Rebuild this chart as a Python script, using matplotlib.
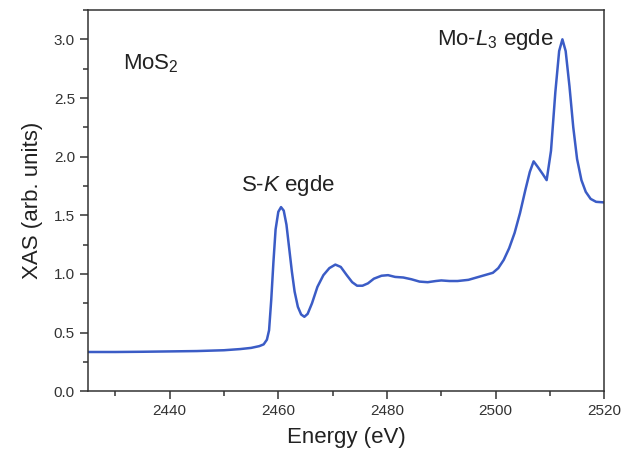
import matplotlib
matplotlib.use("Agg")
import matplotlib.pyplot as plt
from matplotlib.ticker import MultipleLocator, FormatStrFormatter

plt.rcParams["font.family"] = ["Liberation Sans", "DejaVu Sans"]
plt.rcParams["mathtext.fontset"] = "custom"
plt.rcParams["mathtext.rm"] = "Liberation Sans"
plt.rcParams["mathtext.it"] = "Liberation Sans:italic"

# XAS spectrum of MoS2
energy = [2425, 2430, 2435, 2440, 2445, 2450, 2453, 2455, 2456.5, 2457.3,
          2457.9, 2458.3, 2458.7, 2459.1, 2459.5, 2460.0, 2460.5, 2461.0, 2461.5, 2462.0,
          2462.5, 2463.0, 2463.6, 2464.2, 2464.8, 2465.4, 2466.2, 2467.2, 2468.3, 2469.4,
          2470.5, 2471.5, 2472.6, 2473.6, 2474.5, 2475.5, 2476.5, 2477.6, 2479.0, 2480.2,
          2481.5, 2483.0, 2484.5, 2486.0, 2487.5, 2489.0, 2490.0, 2491.5, 2493.0, 2495.0,
          2496.5, 2498.0, 2499.5, 2500.5, 2501.5, 2502.5, 2503.5, 2504.5, 2505.5, 2506.3,
          2507.0, 2507.8, 2508.7, 2509.4, 2510.2, 2511.0, 2511.7, 2512.3, 2512.9, 2513.6,
          2514.3, 2515.0, 2515.8, 2516.6, 2517.5, 2518.5, 2520]
xas = [0.335, 0.335, 0.337, 0.340, 0.343, 0.350, 0.360, 0.370, 0.385, 0.40,
       0.44, 0.52, 0.78, 1.10, 1.38, 1.53, 1.57, 1.54, 1.42, 1.22,
       1.02, 0.85, 0.72, 0.655, 0.635, 0.66, 0.75, 0.89, 0.99, 1.05,
       1.08, 1.06, 0.99, 0.93, 0.90, 0.90, 0.92, 0.96, 0.985, 0.99,
       0.975, 0.97, 0.955, 0.935, 0.93, 0.94, 0.945, 0.94, 0.94, 0.95,
       0.97, 0.99, 1.01, 1.05, 1.12, 1.22, 1.35, 1.52, 1.72, 1.87,
       1.96, 1.91, 1.85, 1.80, 2.05, 2.55, 2.90, 3.00, 2.90, 2.60,
       2.25, 1.98, 1.80, 1.70, 1.64, 1.615, 1.61]

labels = ["MoS$_2$", "S-$K$ egde", r"Mo-$\mathit{L}_\mathit{3}$ egde"]
label_pos = [(2436.6, 2.79), (2461.7, 1.75), (2500.0, 3.0)]

fig = plt.figure(figsize=(6.21, 4.55), dpi=100)
ax = fig.add_axes([0.142, 0.140, 0.831, 0.838])

ax.plot(energy, xas, color="#3b5cc6", lw=1.8)

ax.set_xlim(2425, 2520)
ax.set_ylim(0, 3.25)
ax.xaxis.set_major_locator(MultipleLocator(20))
ax.xaxis.set_minor_locator(MultipleLocator(10))
ax.yaxis.set_major_locator(MultipleLocator(0.5))
ax.yaxis.set_minor_locator(MultipleLocator(0.25))
ax.yaxis.set_major_formatter(FormatStrFormatter("%.1f"))
ax.tick_params(which="major", direction="out", length=6, width=1.1, labelsize=11, colors="#333333")
ax.tick_params(which="minor", direction="out", length=3.5, width=1.1, colors="#333333")
for s in ax.spines.values():
    s.set_linewidth(1.1)
    s.set_color("#333333")

ax.set_xlabel("Energy (eV)", fontsize=16, color="#222222", labelpad=6)
ax.set_ylabel("XAS (arb. units)", fontsize=16, color="#222222", labelpad=8)

for txt, (x, y) in zip(labels, label_pos):
    ax.text(x, y, txt, fontsize=16, ha="center", va="center", color="#222222")

fig.savefig("out.png", dpi=100)
